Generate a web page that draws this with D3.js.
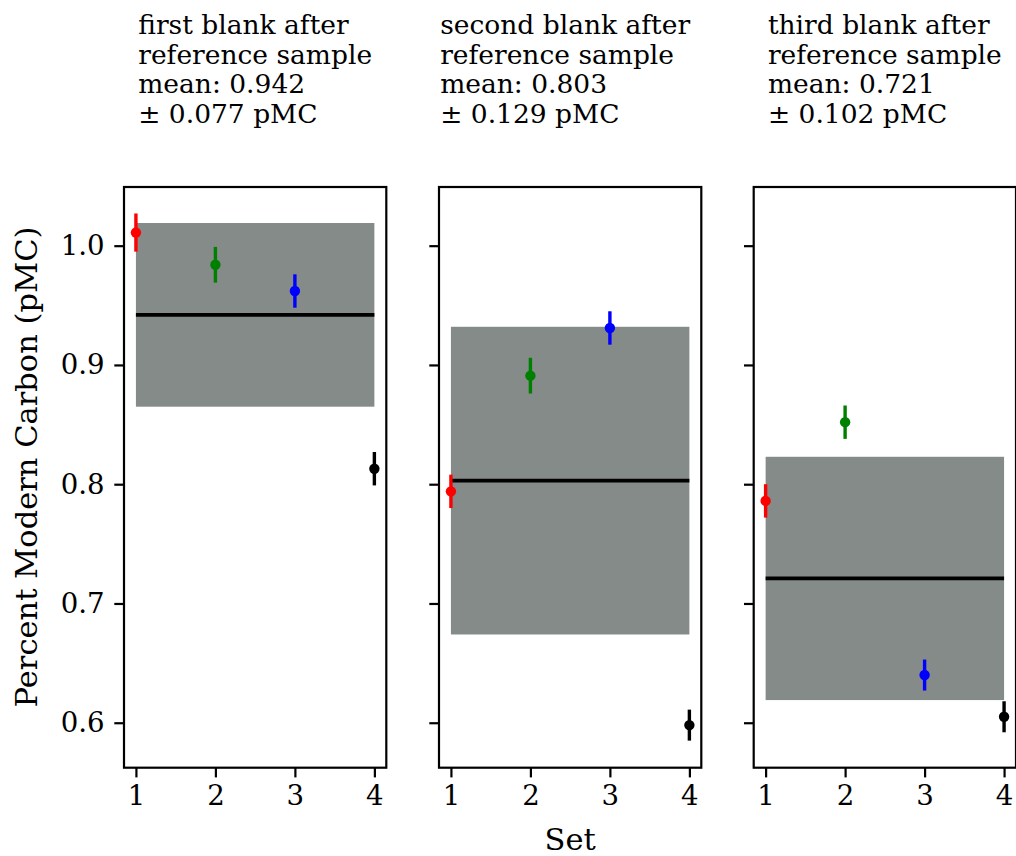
<!DOCTYPE html>
<html>
<head>
<meta charset="utf-8">
<script src="https://cdn.jsdelivr.net/npm/d3@7"></script>
<style>
  body { margin: 0; background: #fff; }
  svg { display: block; font-family: "DejaVu Serif", serif; }
</style>
</head>
<body>
<svg id="chart" width="1016" height="856"></svg>
<script>
// ---- data ----
const sets = [1, 2, 3, 4];
const pointColors = ["#ff0000", "#008000", "#0000ff", "#000000"];
const panelTitles = [
  ["first blank after", "reference sample", "mean: 0.942", "\u00b1 0.077 pMC"],
  ["second blank after", "reference sample", "mean: 0.803", "\u00b1 0.129 pMC"],
  ["third blank after", "reference sample", "mean: 0.721", "\u00b1 0.102 pMC"]
];
const panelMeans = [0.942, 0.803, 0.721];
const panelStd = [0.077, 0.129, 0.102];
const panelValues = [
  [1.011, 0.984, 0.962, 0.813],
  [0.794, 0.891, 0.931, 0.598],
  [0.786, 0.852, 0.640, 0.605]
];
const panelErrors = [
  [0.016, 0.015, 0.014, 0.014],
  [0.014, 0.015, 0.014, 0.013],
  [0.014, 0.014, 0.013, 0.013]
];
const yTicks = [0.6, 0.7, 0.8, 0.9, 1.0];
const xDomain = [0.85, 4.15];
const yDomain = [0.5623, 1.0492];

// ---- layout ----
const svg = d3.select("#chart");
const panelLefts = [124, 439, 753.7];
const titleShift = [0, -5, 0];
const panelW = 262.3;
const plotTop = 187, plotBottom = 767.7;
const tickPx = 27.6;
const titlePx = 26.5;
const labelPx = 30.5;
const serif = "DejaVu Serif, serif";

const y = d3.scaleLinear().domain(yDomain).range([plotBottom, plotTop]);

panelLefts.forEach((left, i) => {
  const x = d3.scaleLinear().domain(xDomain).range([left, left + panelW]);
  const g = svg.append("g");

  // band
  g.append("rect")
    .attr("x", x(sets[0]))
    .attr("width", x(sets[sets.length - 1]) - x(sets[0]))
    .attr("y", y(panelMeans[i] + panelStd[i]))
    .attr("height", y(panelMeans[i] - panelStd[i]) - y(panelMeans[i] + panelStd[i]))
    .attr("fill", "#858b89");

  // mean line
  g.append("line")
    .attr("x1", x(sets[0])).attr("x2", x(sets[sets.length - 1]))
    .attr("y1", y(panelMeans[i])).attr("y2", y(panelMeans[i]))
    .attr("stroke", "#000").attr("stroke-width", 3.8);

  // error bars
  sets.forEach((s, j) => {
    const v = panelValues[i][j], e = panelErrors[i][j];
    g.append("line")
      .attr("x1", x(s)).attr("x2", x(s))
      .attr("y1", y(v - e)).attr("y2", y(v + e))
      .attr("stroke", pointColors[j]).attr("stroke-width", 3.4);
    g.append("circle")
      .attr("cx", x(s)).attr("cy", y(v)).attr("r", 5.2)
      .attr("fill", pointColors[j]);
  });

  // axes
  const xAxis = d3.axisBottom(x).tickValues(sets).tickFormat(d3.format("d"))
    .tickSize(9.7).tickPadding(8);
  const xg = g.append("g").attr("transform", `translate(0,${plotBottom})`).call(xAxis);
  xg.attr("font-family", serif);
  xg.select(".domain").remove();
  xg.selectAll(".tick line").attr("stroke-width", 2.2);
  xg.selectAll(".tick text").attr("font-family", serif).attr("font-size", tickPx).attr("fill", "#000");

  const yAxis = d3.axisLeft(y).tickValues(yTicks)
    .tickFormat(i === 0 ? d3.format(".1f") : () => "")
    .tickSize(9.7).tickPadding(9.7);
  const yg = g.append("g").attr("transform", `translate(${left},0)`).call(yAxis);
  yg.attr("font-family", serif);
  yg.select(".domain").remove();
  yg.selectAll(".tick line").attr("stroke-width", 2.2);
  yg.selectAll(".tick text").attr("font-family", serif).attr("font-size", tickPx).attr("fill", "#000");

  // frame
  g.append("rect")
    .attr("x", left).attr("y", plotTop).attr("width", panelW).attr("height", plotBottom - plotTop)
    .attr("fill", "none").attr("stroke", "#000").attr("stroke-width", 2.2);

  // title (block centered, lines left aligned)
  const tg = g.append("g");
  const lines = panelTitles[i].map((t, k) =>
    tg.append("text").attr("y", 34 + k * 29.5).attr("font-family", serif)
      .attr("font-size", titlePx).attr("fill", "#000").text(t));
  const maxW = d3.max(lines, l => l.node().getComputedTextLength());
  const cx = left + panelW / 2;
  lines.forEach(l => l.attr("x", cx - maxW / 2 + titleShift[i]));

  if (i === 1) {
    svg.append("text").attr("x", cx).attr("y", 850)
      .attr("text-anchor", "middle").attr("font-family", serif)
      .attr("font-size", labelPx).text("Set");
  }
});

// y label
svg.append("text")
  .attr("transform", `translate(37,467) rotate(-90)`)
  .attr("text-anchor", "middle").attr("font-family", serif).attr("font-size", labelPx)
  .text("Percent Modern Carbon (pMC)");
</script>
</body>
</html>
